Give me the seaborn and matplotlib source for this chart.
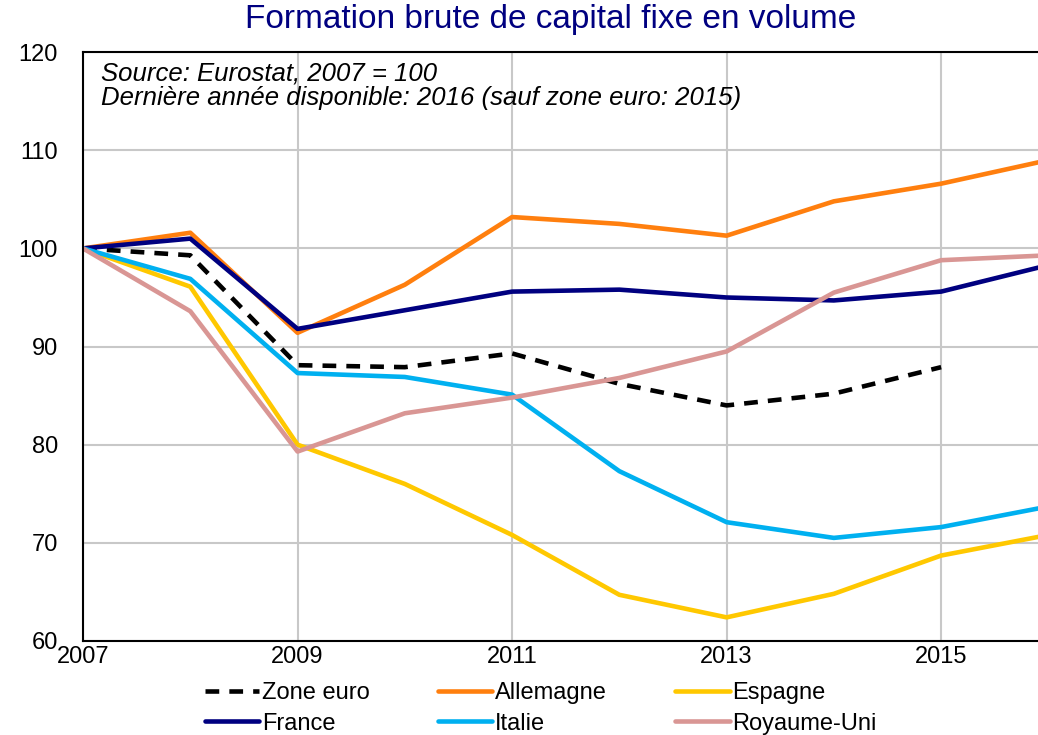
import pandas as pd
import matplotlib
matplotlib.use("Agg")
import matplotlib.pyplot as plt
import seaborn as sns

# Data (index 2007 = 100)
years = [2007, 2008, 2009, 2010, 2011, 2012, 2013, 2014, 2015, 2016]
zone_euro = [100, 99.3, 88.1, 87.9, 89.3, 86.2, 84.0, 85.2, 87.9]
allemagne = [100, 101.6, 91.4, 96.3, 103.2, 102.5, 101.3, 104.8, 106.6, 109.0]
espagne = [100, 96.1, 80.0, 76.0, 70.8, 64.7, 62.4, 64.8, 68.7, 70.8]
france = [100, 101.0, 91.8, 93.7, 95.6, 95.8, 95.0, 94.7, 95.6, 98.3]
italie = [100, 96.9, 87.3, 86.9, 85.1, 77.3, 72.1, 70.5, 71.6, 73.7]
royaume_uni = [100, 93.6, 79.3, 83.2, 84.8, 86.8, 89.5, 95.5, 98.8, 99.3]

series = {
    "Zone euro": zone_euro,
    "Allemagne": allemagne,
    "Espagne": espagne,
    "France": france,
    "Italie": italie,
    "Royaume-Uni": royaume_uni,
}
colors = {
    "Zone euro": "#000000",
    "Allemagne": "#FF7F0E",
    "Espagne": "#FFC800",
    "France": "#000080",
    "Italie": "#00B0F0",
    "Royaume-Uni": "#D99694",
}

sns.set_style("white")
plt.rcParams["font.family"] = ["Liberation Sans", "DejaVu Sans"]
plt.rcParams["text.color"] = "black"

fig = plt.figure(figsize=(10.38, 7.35), dpi=100)
ax = fig.add_axes([0.08, 0.128, 0.93, 0.801])

handles = {}
for name, vals in series.items():
    df = pd.DataFrame({"year": years[:len(vals)], "value": vals})
    sns.lineplot(data=df, x="year", y="value", ax=ax, color=colors[name],
                 linewidth=3.3, label=name)
    line = ax.get_lines()[-1]
    if name == "Zone euro":
        line.set_dashes([3, 2.2])
    handles[name] = line

ax.set_xlim(2007, 2016)
ax.set_ylim(60, 120)
ax.set_xticks([2007, 2009, 2011, 2013, 2015])
ax.set_yticks(range(60, 121, 10))
ax.grid(True, color="#c8c8c8", linewidth=1.5)
ax.set_axisbelow(True)
ax.set_xlabel("")
ax.set_ylabel("")
ax.tick_params(axis="both", length=0, labelsize=17, colors="black")
ax.tick_params(axis="y", pad=18)
ax.tick_params(axis="x", pad=4)
for side in ["left", "bottom", "top"]:
    ax.spines[side].set_color("black")
    ax.spines[side].set_linewidth(1.5)
ax.spines["right"].set_visible(False)

ax.text(0.019, 0.985, "Source: Eurostat, 2007 = 100\nDernière année disponible: 2016 (sauf zone euro: 2015)",
        transform=ax.transAxes, ha="left", va="top", fontsize=18.5, style="italic",
        linespacing=1.03, color="black")

fig.text(0.53, 0.974, "Formation brute de capital fixe en volume", ha="center",
         va="center", fontsize=24, color="#000080")

order = ["Zone euro", "France", "Allemagne", "Italie", "Espagne", "Royaume-Uni"]
leg = ax.legend([handles[n] for n in order], order, loc="center",
                bbox_to_anchor=(0.521, 0.036), bbox_transform=fig.transFigure,
                ncol=3, frameon=False, fontsize=17, handlelength=2.3,
                handletextpad=0.12, columnspacing=2.9, labelspacing=0.35,
                borderaxespad=0)
for t in leg.get_texts():
    t.set_color("black")

fig.savefig("out.png", dpi=100)
